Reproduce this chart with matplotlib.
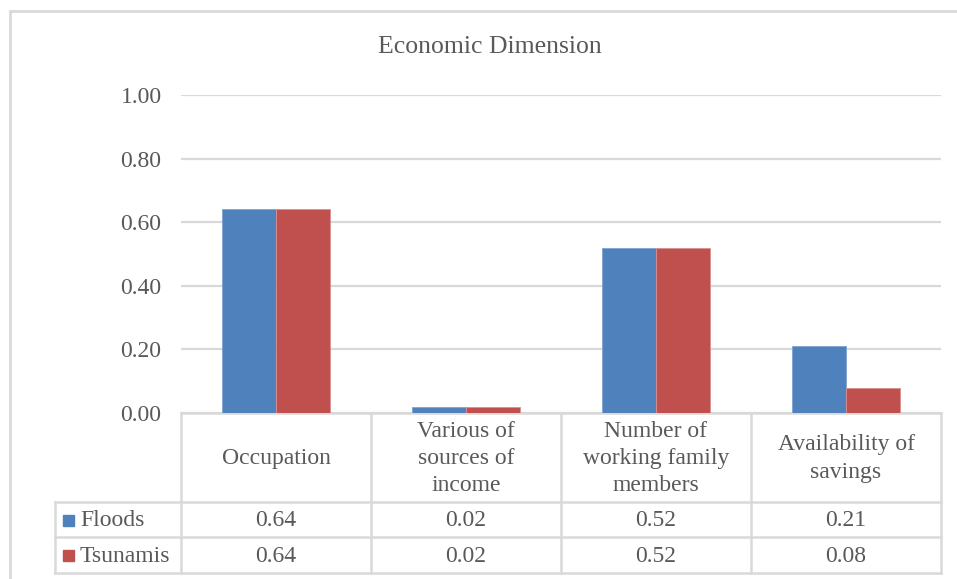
import matplotlib
matplotlib.use('Agg')
import matplotlib.pyplot as plt
import matplotlib.transforms as mtransforms
from matplotlib.patches import Rectangle
import numpy as np

plt.rcParams['font.family'] = ['Liberation Serif', 'DejaVu Serif']

categories = ['Occupation', 'Various of\nsources of\nincome',
              'Number of\nworking family\nmembers', 'Availability of\nsavings']
series_names = ['Floods', 'Tsunamis']
floods = [0.64, 0.02, 0.52, 0.21]
tsunamis = [0.64, 0.02, 0.52, 0.08]
yticks = [0.0, 0.2, 0.4, 0.6, 0.8, 1.0]

BLUE = '#4F81BD'
RED = '#C0504D'
TXT = '#595959'
GRID = '#D9D9D9'

W, H = 957, 579
fig = plt.figure(figsize=(W / 100, H / 100), dpi=100)

# plot area in pixel coords
x0, x1 = 181, 941
ytop, ybot = 95, 413
ax = fig.add_axes([x0 / W, 1 - ybot / H, (x1 - x0) / W, (ybot - ytop) / H])

x = np.arange(len(categories))
bw = 0.285
ax.bar(x - bw / 2, floods, width=bw, color=BLUE, edgecolor='#7FA3D0', linewidth=0.6, zorder=3)
ax.bar(x + bw / 2, tsunamis, width=bw, color=RED, edgecolor='#D9908E', linewidth=0.6, zorder=3)

ax.set_xlim(-0.5, len(categories) - 0.5)
ax.set_ylim(0, 1.0)
ax.set_yticks(yticks)
ax.set_yticklabels([f'{v:.2f}' for v in yticks], fontsize=17, color=TXT)
ax.tick_params(axis='y', length=0, pad=14)
ax.set_xticks([])
for s in ax.spines.values():
    s.set_visible(False)
ax.grid(axis='y', color=GRID, linewidth=1.6, zorder=0)

# title centred on the whole chart area
fig.text(490 / W, 1 - 47 / H, 'Economic Dimension', ha='center', va='center',
         fontsize=18.5, color=TXT)

# data table under the axis (x in data units, y in figure pixels from top)
tr = mtransforms.blended_transform_factory(
    ax.transData, mtransforms.Affine2D().scale(1, -1 / H).translate(0, 1) + fig.transFigure)
lc = dict(color=GRID, linewidth=1.8, transform=tr, clip_on=False)
r_head, r1, r2, r3 = 413, 502, 537, 573
n = len(categories)
# legend column left edge in data units
leg_left = -0.5 + (55 - x0) / (x1 - x0) * n

ax.plot([-0.5, n - 0.5], [r_head, r_head], **lc)
for yy in [r1, r2, r3]:
    ax.plot([leg_left, n - 0.5], [yy, yy], **lc)
for i in range(n + 1):
    ax.plot([i - 0.5, i - 0.5], [r_head, r3], **lc)
ax.plot([leg_left, leg_left], [r1, r3], **lc)

for i, cat in enumerate(categories):
    ax.text(i, (r_head + r1) / 2 + 1, cat, transform=tr, ha='center', va='center',
            fontsize=17, color=TXT, linespacing=1.4, clip_on=False)
    ax.text(i, (r1 + r2) / 2 + 1, f'{floods[i]:.2f}', transform=tr, ha='center',
            va='center', fontsize=17, color=TXT, clip_on=False)
    ax.text(i, (r2 + r3) / 2 + 1, f'{tsunamis[i]:.2f}', transform=tr, ha='center',
            va='center', fontsize=17, color=TXT, clip_on=False)

# legend keys in the row headers
for name, col, (ra, rb) in zip(series_names, [BLUE, RED], [(r1, r2), (r2, r3)]):
    yc = (ra + rb) / 2
    fig.patches.append(Rectangle((63 / W, 1 - (yc + 6) / H), 11 / W, 11 / H,
                                 transform=fig.transFigure, color=col))
    fig.text(80 / W, 1 - (yc + 1) / H, name, ha='left', va='center', fontsize=17, color=TXT)

# outer chart border (right and bottom edges run off the canvas)
fig.patches.append(Rectangle((10 / W, -0.5), 2.0, 1.5 - 11 / H,
                             transform=fig.transFigure, fill=False,
                             edgecolor=GRID, linewidth=2))

fig.savefig('out.png', dpi=100)
